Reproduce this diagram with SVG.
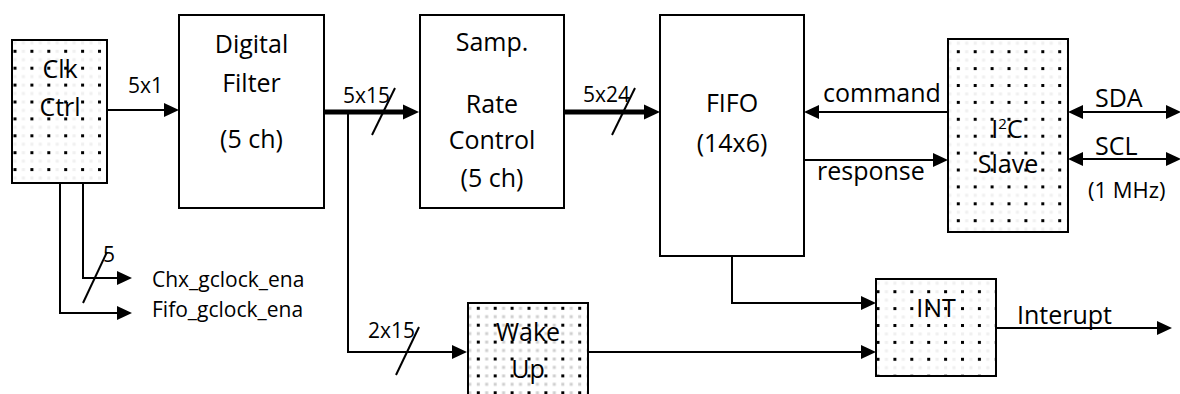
<svg xmlns="http://www.w3.org/2000/svg" xmlns:xlink="http://www.w3.org/1999/xlink" width="1180" height="394" viewBox="0 0 1180 394">
<style>
  .box{stroke:#000;stroke-width:2;}
  .plain{fill:#fff;}
  .t{font-family:"Open Sans","Liberation Sans",sans-serif;font-size:25px;fill:#000;}
  .c{text-anchor:middle;}
  .s{font-size:21px;}
  .w{fill:none;stroke:#000;stroke-width:2;}
  .thick{fill:none;stroke:#000;stroke-width:5;}
  .arr{marker-end:url(#ah);}
  .tarr{marker-end:url(#tah);}
  .dbl{marker-start:url(#ah2);marker-end:url(#ah2);}
</style>
<defs>
  <marker id="ah" markerUnits="userSpaceOnUse" markerWidth="16" markerHeight="16" refX="0" refY="7" orient="auto" overflow="visible">
    <path d="M0,0 L15,7 L0,14 Z" fill="#000"/>
  </marker>
  <marker id="ah2" markerUnits="userSpaceOnUse" markerWidth="16" markerHeight="16" refX="0" refY="7" orient="auto-start-reverse" overflow="visible">
    <path d="M0,0 L15,7 L0,14 Z" fill="#000"/>
  </marker>
  <marker id="tah" markerUnits="userSpaceOnUse" markerWidth="17" markerHeight="16" refX="0" refY="7.5" orient="auto" overflow="visible">
    <path d="M0,0 L16,7.5 L0,15 Z" fill="#000"/>
  </marker>
  <pattern id="dots" width="16.9" height="16.9" patternUnits="userSpaceOnUse">
    <rect width="16.9" height="16.9" fill="#fff"/>
    <rect x="8.4" y="0" width="3" height="3" fill="#f0f0f0"/>
    <rect x="0" y="8.4" width="3" height="3" fill="#f0f0f0"/>
    <rect x="8.4" y="8.4" width="3" height="3" fill="#f0f0f0"/>
    <rect x="0" y="0" width="3" height="3" fill="#000"/>
  </pattern>
  <pattern id="dotsGrey" width="16.9" height="16.9" patternUnits="userSpaceOnUse">
    <rect width="16.9" height="16.9" fill="#fff"/>
    <rect x="8.4" y="0" width="3" height="3" fill="#cfcfcf"/>
    <rect x="0" y="8.4" width="3" height="3" fill="#cfcfcf"/>
    <rect x="8.4" y="8.4" width="3" height="3" fill="#cfcfcf"/>
    <rect x="0" y="0" width="3" height="3" fill="#000"/>
  </pattern>
  <pattern id="pClk" href="#dots" xlink:href="#dots" x="13.5" y="49.8"/>
  <pattern id="pI2C" href="#dots" xlink:href="#dots" x="956.8" y="50.2"/>
  <pattern id="pINT" href="#dots" xlink:href="#dots" x="876.5" y="290.2"/>
  <pattern id="pWake" href="#dotsGrey" xlink:href="#dotsGrey" x="476.8" y="306.8"/>
</defs>
<rect width="1180" height="394" fill="#fff"/>

<g id="connectors">
  <line class="w arr" x1="107" y1="110" x2="164" y2="110"/>
  <path class="w arr" d="M83,183 V278 H117"/>
  <path class="w arr" d="M60,183 V313 H117"/>
  <line class="w" x1="83" y1="303" x2="107" y2="252"/>
  <line class="thick tarr" x1="324" y1="112" x2="403" y2="112"/>
  <line class="w" x1="372" y1="135" x2="395" y2="88"/>
  <path class="w arr" d="M348,112 V352 H452"/>
  <line class="w" x1="396" y1="375" x2="419" y2="327"/>
  <line class="thick tarr" x1="564" y1="112" x2="644" y2="112"/>
  <line class="w" x1="612" y1="135" x2="635" y2="88"/>
  <line class="w arr" x1="948" y1="112" x2="819" y2="112"/>
  <line class="w arr" x1="804" y1="160" x2="933" y2="160"/>
  <line class="w dbl" x1="1083" y1="112" x2="1166" y2="112"/>
  <line class="w dbl" x1="1083" y1="159" x2="1166" y2="159"/>
  <path class="w arr" d="M732,256 V303 H861"/>
  <line class="w arr" x1="588" y1="352" x2="861" y2="352"/>
  <line class="w arr" x1="996" y1="328" x2="1157" y2="328"/>
</g>

<g id="labels">
  <text class="t s" x="128" y="93">5x1</text>
  <text class="t s" x="343" y="103">5x15</text>
  <text class="t s" x="583" y="102">5x24</text>
  <text class="t s" x="368" y="338">2x15</text>
  <text class="t s" x="103" y="262">5</text>
  <text class="t s" x="152" y="287">Chx_gclock_ena</text>
  <text class="t s" x="152" y="317">Fifo_gclock_ena</text>
  <text class="t" x="823" y="102">command</text>
  <text class="t" x="817" y="180">response</text>
  <text class="t" x="1095" y="107">SDA</text>
  <text class="t" x="1095" y="155">SCL</text>
  <text class="t" x="1088" y="198" style="font-size:22px">(1 MHz)</text>
  <text class="t" x="1017" y="324">Interupt</text>
</g>

<g id="clk-ctrl">
  <rect class="box" x="12" y="40" width="95" height="143" fill="url(#pClk)"/>
  <text class="t c" x="60" y="78">Clk</text>
  <text class="t c" x="60" y="116">Ctrl</text>
</g>

<g id="digital-filter">
  <rect class="box plain" x="179" y="15" width="145" height="193"/>
  <text class="t c" x="251.5" y="53">Digital</text>
  <text class="t c" x="251.5" y="92">Filter</text>
  <text class="t c" x="251.5" y="148">(5 ch)</text>
</g>

<g id="samp-rate-control">
  <rect class="box plain" x="420" y="15" width="144" height="193"/>
  <text class="t c" x="492" y="51">Samp.</text>
  <text class="t c" x="492" y="113">Rate</text>
  <text class="t c" x="492" y="149">Control</text>
  <text class="t c" x="492" y="187">(5 ch)</text>
</g>

<g id="fifo">
  <rect class="box plain" x="660" y="15" width="144" height="241"/>
  <text class="t c" x="732" y="112">FIFO</text>
  <text class="t c" x="732" y="152">(14x6)</text>
</g>

<g id="i2c-slave">
  <rect class="box" x="948" y="39" width="120" height="193" fill="url(#pI2C)"/>
  <text class="t c" x="1007" y="138">I<tspan font-size="15" dy="-9">2</tspan><tspan dy="9">C</tspan></text>
  <text class="t c" x="1008" y="173">Slave</text>
</g>

<g id="int">
  <rect class="box" x="876" y="279" width="120" height="97" fill="url(#pINT)"/>
  <text class="t c" x="936" y="317">INT</text>
</g>

<g id="wake-up">
  <rect class="box" x="468" y="303" width="120" height="110" fill="url(#pWake)"/>
  <text class="t c" x="528" y="341">Wake</text>
  <text class="t c" x="528" y="378">Up</text>
</g>
</svg>
